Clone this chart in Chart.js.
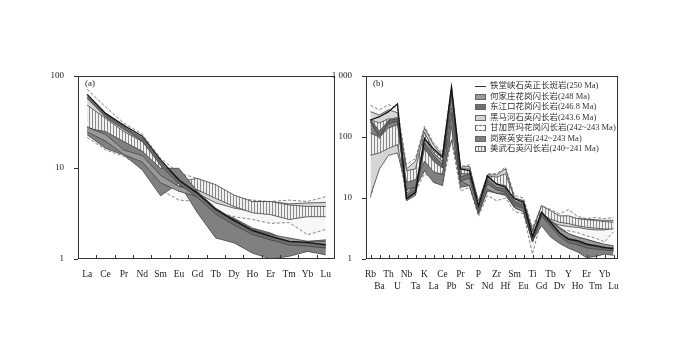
<!DOCTYPE html>
<html>
<head>
<meta charset="utf-8">
<script src="https://cdn.jsdelivr.net/npm/chart.js@4/dist/chart.umd.min.js"></script>
<style>
  html, body { margin: 0; padding: 0; background: #fff; }
  #wrap { position: relative; width: 700px; height: 344px; }
  #chartA { position: absolute; left: 0; top: 0; }
  #chartB { position: absolute; left: 330px; top: 0; }
  .legend { position: absolute; left: 475px; top: 80px; font: 8.5px "Liberation Serif", "Noto Sans CJK SC", serif; color: #333; }
  .legend div { height: 10.5px; line-height: 10.5px; white-space: nowrap; }
  .sw { display: inline-block; width: 11px; height: 6px; margin-right: 4px; vertical-align: middle; border: 1px solid #666; box-sizing: border-box; }
  .ln { display: inline-block; width: 11px; height: 0; margin-right: 4px; vertical-align: middle; border-top: 1px solid #333; }
</style>
</head>
<body>
<div id="wrap">
  <canvas id="chartA" width="350" height="344"></canvas>
  <canvas id="chartB" width="370" height="344"></canvas>
  <div class="legend">
    <div><span class="ln"></span>铁堂峡石英正长斑岩(250 Ma)</div>
    <div><span class="sw" style="background:#9a9a9a"></span>何家庄花岗闪长岩(248 Ma)</div>
    <div><span class="sw" style="background:#6e6e6e"></span>东江口花岗闪长岩(246.8 Ma)</div>
    <div><span class="sw" style="background:#d6d6d6"></span>黑马河石英闪长岩(243.6 Ma)</div>
    <div><span class="sw" style="background:#f7f7f7;border-style:dashed"></span>甘加贾玛花岗闪长岩(242~243 Ma)</div>
    <div><span class="sw" style="background:#808080"></span>岗察英安岩(242~243 Ma)</div>
    <div><span class="sw" style="background:repeating-linear-gradient(90deg,#f0f0f0 0 2px,#888 2px 3px)"></span>美武石英闪长岩(240~241 Ma)</div>
  </div>
</div>
<script>
const REE = ['La', 'Ce', 'Pr', 'Nd', 'Sm', 'Eu', 'Gd', 'Tb', 'Dy', 'Ho', 'Er', 'Tm', 'Yb', 'Lu'];
const SPIDER = ['Rb', 'Ba', 'Th', 'U', 'Nb', 'Ta', 'K', 'La', 'Ce', 'Pb', 'Pr', 'Sr', 'P', 'Nd',
  'Zr', 'Hf', 'Sm', 'Eu', 'Ti', 'Gd', 'Tb', 'Dy', 'Y', 'Ho', 'Er', 'Tm', 'Yb', 'Lu'];

// (a) chondrite-normalised REE
const tieLineA = [63, 39, 29, 22, 12.1, 7.3, 5.25, 3.5, 2.64, 2.05, 1.77, 1.56, 1.52, 1.43];
const ganjiaHiA = [71.6, 46, 30.5, 23.3, 12.6, 8.7, 7.6, 6.2, 4.8, 4.4, 4.25, 4.4, 4.25, 4.8];
const ganjiaLoA = [21.3, 15.6, 13.2, 10.2, 5.7, 4.4, 4.25, 3.3, 2.9, 2.7, 2.45, 2.5, 1.84, 2.1];
const heimaHiA = [57, 37.5, 28, 20, 11.6, 6.75, 5.7, 4.8, 4.4, 4.25, 4.25, 4.0, 4.1, 4.15];
const heimaLoA = [33, 24.7, 14.5, 14.3, 8.3, 5.5, 5.25, 4.1, 3.6, 3.3, 3.2, 2.9, 3.05, 3.2];
const meiwuHiA = [48, 34.5, 24.7, 19.2, 11.1, 7.0, 7.6, 6.5, 5.0, 4.25, 4.25, 3.9, 3.75, 3.75];
const meiwuLoA = [28, 22.7, 18.4, 15, 9.4, 6.2, 5.7, 4.6, 3.75, 3.2, 3.05, 2.7, 2.9, 2.9];
const hejiaHiA = [27.5, 23, 15.5, 13.5, 8.2, 6.2, 5.5, 3.6, 2.7, 2.1, 1.84, 1.7, 1.56, 1.56];
const hejiaLoA = [24.5, 19.5, 13.8, 11.5, 6.8, 5.5, 4.8, 3.3, 2.37, 1.92, 1.62, 1.5, 1.43, 1.32];
const gangchaHiA = [26.8, 24.7, 19.2, 15, 9.8, 9.8, 5.5, 3.3, 2.8, 2.18, 1.92, 1.56, 1.56, 1.62];
const gangchaLoA = [22.8, 16.2, 13.7, 9.4, 4.9, 6.75, 3.2, 1.7, 1.5, 1.16, 1.0, 1.07, 1.21, 1.11];
const dongjiangHiA = [61, 38, 28, 21, 11.5, 7.1, 5.2, 3.4, 2.6, 2.0, 1.75, 1.55, 1.5, 1.45];
const dongjiangLoA = [57, 35.5, 26, 19.5, 10.5, 6.6, 4.7, 3.1, 2.35, 1.85, 1.62, 1.42, 1.38, 1.32];

// (b) primitive-mantle-normalised trace elements
const tieLineB = [190, 215, 260, 350, 9.7, 12.4, 93, 64, 47, 660, 30, 28, 7.5, 23, 17, 15, 9.7, 8.5, 2.3, 5.8, 4.0, 2.7, 2.1, 2.0, 1.76, 1.65, 1.55, 1.46];
const ganjiaHiB = [330, 280, 340, 300, 35, 45, 150, 80, 55, 700, 33, 35, 8, 25, 25, 32, 11, 10, 3.3, 7.5, 6.5, 5.5, 6.5, 5, 4.6, 4.8, 4.6, 4.8];
const ganjiaLoB = [10, 35, 60, 70, 10, 13, 25, 20, 16, 90, 13, 15, 5, 11, 9, 10, 6, 5.5, 1.2, 4.5, 3.3, 3, 2.9, 2.7, 2.4, 2.2, 1.9, 2.8];
const heimaHiB = [260, 230, 280, 250, 30, 40, 140, 75, 50, 600, 32, 33, 8, 24, 24, 30, 10, 9, 3, 7, 5.5, 5, 4.8, 4.6, 4.5, 4.4, 4.3, 4.3];
const heimaLoB = [11, 30, 50, 55, 15, 16, 28, 25, 20, 150, 18, 20, 6, 16, 14, 15, 7, 6, 2, 5, 4, 3.6, 3.4, 3.3, 3.1, 3.0, 3.0, 3.2];
const meiwuHiB = [190, 170, 200, 190, 28, 30, 120, 60, 45, 500, 30, 30, 9, 23, 22, 25, 10, 9, 2.8, 7.5, 6.2, 5.1, 5.1, 4.6, 4.4, 4.3, 4.1, 4.0];
const meiwuLoB = [50, 55, 65, 75, 13, 15, 30, 25, 25, 90, 20, 18, 6.5, 15, 12, 12, 7, 6, 1.9, 5.5, 4.5, 4.0, 3.8, 3.5, 3.3, 3.2, 3.1, 3.1];
const hejiaHiB = [195, 105, 190, 210, 12, 15, 100, 55, 40, 550, 25, 25, 7.5, 22, 17, 16, 9, 8, 2.5, 6, 4.2, 3.2, 2.6, 2.3, 2.1, 1.9, 1.75, 1.65];
const hejiaLoB = [175, 95, 172, 190, 9, 11, 75, 42, 32, 300, 19, 16, 5.5, 14, 12, 12, 7, 6, 1.9, 5, 3.6, 2.6, 2.2, 2.0, 1.8, 1.6, 1.5, 1.35];
const gangchaHiB = [190, 120, 165, 180, 18, 20, 40, 27, 24, 250, 19, 21, 7, 17, 15, 14, 8.5, 7.5, 2.4, 5.5, 4.3, 3.3, 2.6, 2.3, 2.1, 1.9, 1.7, 1.6];
const gangchaLoB = [115, 100, 140, 160, 14, 15, 28, 18, 16, 150, 15, 16, 5.5, 13, 12, 11, 7, 6, 2, 3.5, 2.3, 1.8, 1.5, 1.3, 1.05, 1.1, 1.2, 1.15];
const dongjiangHiB = [192, 125, 185, 200, 11, 14, 80, 50, 35, 600, 22, 25, 7, 20, 15, 14, 8.5, 7.5, 2.3, 5.8, 3.8, 2.6, 2.1, 1.9, 1.7, 1.6, 1.5, 1.55];
const dongjiangLoB = [180, 105, 170, 185, 9.5, 12, 65, 40, 31, 480, 19, 21, 6, 17, 13.5, 12.5, 7.5, 6.7, 1.95, 5.3, 3.4, 2.35, 1.85, 1.72, 1.52, 1.46, 1.4, 1.36];

const SERIF = '"Liberation Serif", "Times New Roman", serif';

const makeHatch = () => {
  const c = document.createElement('canvas');
  c.width = 3;
  c.height = 3;
  const g = c.getContext('2d');
  g.fillStyle = '#f0f0f0';
  g.fillRect(0, 0, 3, 3);
  g.fillStyle = '#8a8a8a';
  g.fillRect(2, 0, 1, 3);
  return g.createPattern(c, 'repeat');
};
const hatch = makeHatch();

// one filled band = upper line filled to the lower line
const band = (hi, lo, fill, order, dashed) => {
  const line = {
    borderColor: dashed ? '#666' : '#444',
    borderWidth: 0.8,
    borderDash: dashed ? [3, 2] : [],
    pointRadius: 0,
    tension: 0
  };
  return [
    Object.assign({data: hi, fill: '+1', backgroundColor: fill, order: order + 1}, line),
    Object.assign({data: lo, fill: false, order: order}, line)
  ];
};

const buildDatasets = (g) => [
  ...band(g.ganjiaHi, g.ganjiaLo, '#f7f7f7', 20, true),
  ...band(g.heimaHi, g.heimaLo, '#d6d6d6', 16, false),
  ...band(g.meiwuHi, g.meiwuLo, hatch, 12, false),
  ...band(g.gangchaHi, g.gangchaLo, '#808080', 9, false),
  ...band(g.hejiaHi, g.hejiaLo, '#9a9a9a', 6, false),
  ...band(g.dongjiangHi, g.dongjiangLo, '#6e6e6e', 3, false),
  {data: g.tie, fill: false, borderColor: '#111', borderWidth: 1.3, pointRadius: 0, tension: 0, order: 0}
];

const isDecade = (v) => Math.abs(Math.log10(v) - Math.round(Math.log10(v))) < 1e-6;

const framePlugin = {
  id: 'frame',
  afterDraw(chart, args, opts) {
    const {ctx, chartArea: a, scales} = chart;
    ctx.save();
    ctx.strokeStyle = '#333';
    ctx.lineWidth = 1;
    ctx.strokeRect(Math.round(a.left) + 0.5, Math.round(a.top) + 0.5, Math.round(a.width) - 1, Math.round(a.height) - 1);
    const n = chart.data.labels.length;
    ctx.beginPath();
    for (let i = 0; i < n; i++) {
      let x;
      if (opts.between) {
        if (i === 0) continue;
        x = (scales.x.getPixelForValue(i - 1) + scales.x.getPixelForValue(i)) / 2;
      } else {
        x = scales.x.getPixelForValue(i);
      }
      x = Math.round(x) + 0.5;
      ctx.moveTo(x, a.bottom);
      ctx.lineTo(x, a.bottom - 4);
    }
    for (let d = 1; d <= opts.max; d *= 10) {
      const y = Math.round(scales.y.getPixelForValue(d)) + 0.5;
      ctx.moveTo(a.left - 4, y);
      ctx.lineTo(a.left, y);
    }
    ctx.stroke();
    ctx.fillStyle = '#222';
    ctx.font = '9px ' + SERIF;
    ctx.textBaseline = 'top';
    ctx.fillText(opts.tag, a.left + 7, a.top + 3);
    ctx.restore();
  }
};

const makeChart = (id, labels, g, o) => new Chart(document.getElementById(id), {
  type: 'line',
  data: {labels: labels, datasets: buildDatasets(g)},
  plugins: [framePlugin],
  options: {
    responsive: false,
    animation: false,
    events: [],
    layout: {padding: {left: 0, top: 76, right: o.padRight, bottom: o.padBottom}},
    plugins: {
      legend: {display: false},
      tooltip: {enabled: false},
      filler: {propagate: false},
      frame: {between: o.between, max: o.max, tag: o.tag}
    },
    scales: {
      x: {
        type: 'category',
        offset: true,
        grid: {display: false},
        border: {display: false},
        afterFit: (s) => { s.height = o.xHeight; },
        ticks: {
          autoSkip: false,
          maxRotation: 0,
          padding: 2,
          color: '#222',
          font: {family: SERIF, size: 9.5},
          callback: o.xLabel
        }
      },
      y: {
        type: 'logarithmic',
        min: 1,
        max: o.max,
        grid: {display: false},
        border: {display: false},
        afterFit: (s) => { s.width = o.yWidth; },
        ticks: {
          autoSkip: false,
          padding: 6,
          color: '#222',
          font: {family: SERIF, size: 9},
          callback: (v) => isDecade(v) ? (v === 1000 ? '1 000' : String(v)) : ''
        }
      }
    }
  }
});

makeChart('chartA', REE, {
  tie: tieLineA,
  ganjiaHi: ganjiaHiA, ganjiaLo: ganjiaLoA,
  heimaHi: heimaHiA, heimaLo: heimaLoA,
  meiwuHi: meiwuHiA, meiwuLo: meiwuLoA,
  hejiaHi: hejiaHiA, hejiaLo: hejiaLoA,
  gangchaHi: gangchaHiA, gangchaLo: gangchaLoA,
  dongjiangHi: dongjiangHiA, dongjiangLo: dongjiangLoA
}, {
  padRight: 15, padBottom: 55, xHeight: 30, yWidth: 78,
  max: 100, between: true, tag: '(a)',
  xLabel: function(v, i) { return REE[i]; }
});

makeChart('chartB', SPIDER, {
  tie: tieLineB,
  ganjiaHi: ganjiaHiB, ganjiaLo: ganjiaLoB,
  heimaHi: heimaHiB, heimaLo: heimaLoB,
  meiwuHi: meiwuHiB, meiwuLo: meiwuLoB,
  hejiaHi: hejiaHiB, hejiaLo: hejiaLoB,
  gangchaHi: gangchaHiB, gangchaLo: gangchaLoB,
  dongjiangHi: dongjiangHiB, dongjiangLo: dongjiangLoB
}, {
  padRight: 82, padBottom: 55, xHeight: 30, yWidth: 36,
  max: 1000, between: false, tag: '(b)',
  xLabel: function(v, i) { return i % 2 === 0 ? [SPIDER[i], ''] : ['', SPIDER[i]]; }
});
</script>
</body>
</html>
